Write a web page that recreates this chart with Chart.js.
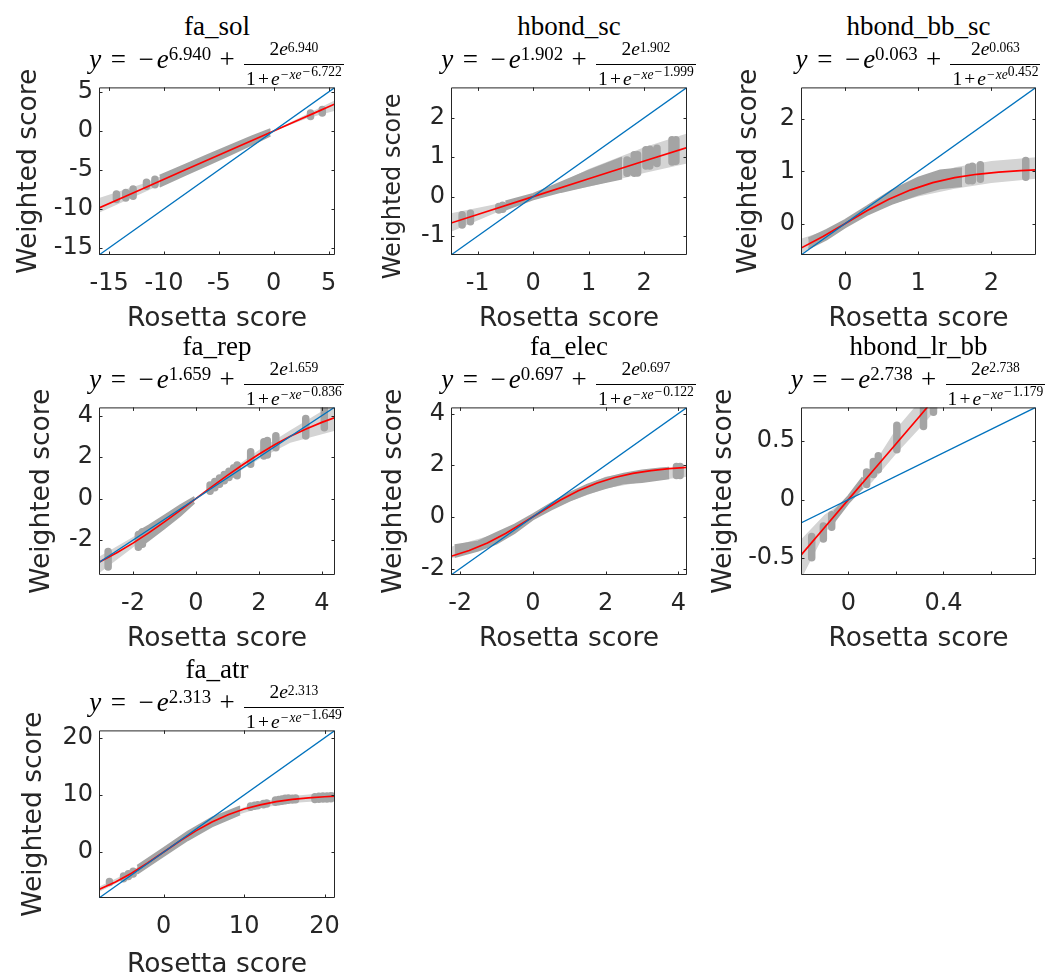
<!DOCTYPE html>
<html>
<head>
<meta charset="utf-8">
<script src="https://cdn.jsdelivr.net/npm/chart.js@4.4.1/dist/chart.umd.min.js"></script>
<style>
  html, body { margin:0; padding:0; background:#fff; width:1051px; height:975px; overflow:hidden; }
  canvas { position:absolute; }
  .ttl { position:absolute; text-align:center; font-family:'Liberation Serif', serif; color:#000; white-space:nowrap; }
  .name { font-size:27px; line-height:27px; }
  .eq { font-size:27px; line-height:27px; }
  .eq i { font-style:italic; }
  .rel { display:inline-block; width:0.78em; margin:0 0.25em; text-align:center; }
  .ord { display:inline-block; width:0.78em; text-align:center; }
  .bin { display:inline-block; width:0.78em; margin:0 0.2em; text-align:center; }
  .sbin { display:inline-block; width:0.78em; text-align:center; }
  .m { display:inline-block; width:0.72em; text-align:center; }
  sup { font-size:0.7em; vertical-align:baseline; position:relative; top:-0.45em; line-height:0; }
  sup sup { font-size:1em; top:-0.25em; }
  .frac { display:inline-block; vertical-align:middle; font-size:0.72em; line-height:1.15; text-align:center; margin:0 1px; position:relative; top:2px; }
  .num { display:block; padding:0 2px 3.5px; border-bottom:1.2px solid #000; }
  .num > sup { top:-0.25em; }
  .den { display:block; padding:3px 2px 0; }
  .den > sup { top:-0.42em; }
</style>
</head>
<body>
<script>
// ---------- fa_sol ----------
const solXLim = [-15.93, 5.59], solYLim = [-15.93, 5.59];
const solXTicks = [-15, -10, -5, 0, 5], solXLabels = ['-15', '-10', '-5', '0', '5'];
const solYTicks = [-15, -10, -5, 0, 5], solYLabels = ['-15', '-10', '-5', '0', '5'];
const solFitX = [-15.93, -12, -8, -4, 0, 2, 4, 5.59];
const solFitY = [-9.89, -7.45, -4.96, -2.48, 0, 1.24, 2.48, 3.47];
const solBandX = [-15.93, -12, -8, -4, 0, 3, 5.59];
const solBandLo = [-10.5, -8.0, -5.4, -2.75, -0.05, 1.6, 2.6];
const solBandHi = [-8.6, -6.8, -4.5, -2.2, 0.05, 2.15, 3.95];
const solDenseX = [-10.4, -8, -6, -4, -2, -0.3];
const solDenseLo = [-7.15, -5.62, -4.36, -3.06, -1.76, -0.6];
const solDenseHi = [-5.75, -4.3, -3.08, -1.9, -0.72, 0.22];
const solPtsX = [-14.34, -13.49, -12.82, -11.6, -10.83, 3.36, 4.43];
const solPtsLo = [-8.8, -8.6, -8.4, -7.1, -6.9, 1.85, 2.3];
const solPtsHi = [-8.1, -7.9, -7.45, -6.6, -6.2, 2.3, 2.75];

// ---------- hbond_sc ----------
const hscXLim = [-1.48, 2.77], hscYLim = [-1.48, 2.77];
const hscXTicks = [-1, 0, 1, 2], hscXLabels = ['-1', '0', '1', '2'];
const hscYTicks = [-1, 0, 1, 2], hscYLabels = ['-1', '0', '1', '2'];
const hscFitX = [-1.48, -1, 0, 1, 2, 2.77];
const hscFitY = [-0.669, -0.453, 0, 0.453, 0.902, 1.243];
const hscBandX = [-1.48, -0.5, 0, 1, 2, 2.77];
const hscBandLo = [-0.89, -0.31, -0.02, 0.25, 0.6, 0.84];
const hscBandHi = [-0.42, -0.14, 0.02, 0.7, 1.25, 1.60];
const hscDenseX = [-0.5, 0, 0.5, 1, 1.6];
const hscDenseLo = [-0.33, -0.07, 0.12, 0.28, 0.46];
const hscDenseHi = [-0.12, 0.07, 0.36, 0.66, 0.99];
const hscPtsX = [-1.28, -1.13, -0.62, -0.55, 1.69, 1.82, 1.88, 2.03, 2.1, 2.23, 2.5, 2.57];
const hscPtsLo = [-0.72, -0.64, -0.34, -0.32, 0.59, 0.59, 0.6, 0.78, 0.78, 0.84, 0.88, 0.9];
const hscPtsHi = [-0.46, -0.42, -0.25, -0.22, 0.93, 1.06, 1.06, 1.19, 1.2, 1.23, 1.44, 1.44];

// ---------- hbond_bb_sc ----------
const hbbXLim = [-0.60, 2.61], hbbYLim = [-0.60, 2.61];
const hbbXTicks = [0, 1, 2], hbbXLabels = ['0', '1', '2'];
const hbbYTicks = [0, 1, 2], hbbYLabels = ['0', '1', '2'];
const hbbFitX = [-0.6, -0.3, 0, 0.3, 0.6, 0.9, 1.2, 1.5, 1.8, 2.1, 2.4, 2.61];
const hbbFitY = [-0.468, -0.246, 0, 0.246, 0.468, 0.648, 0.785, 0.881, 0.946, 0.989, 1.017, 1.030];
const hbbBandX = [-0.6, -0.3, 0, 0.5, 1, 1.5, 2, 2.61];
const hbbBandLo = [-0.57, -0.33, -0.03, 0.32, 0.52, 0.67, 0.78, 0.86];
const hbbBandHi = [-0.29, -0.15, 0.03, 0.48, 0.78, 1.08, 1.2, 1.27];
const hbbDenseX = [-0.5, -0.25, 0, 0.3, 0.64, 1.0, 1.3, 1.6];
const hbbDenseLo = [-0.48, -0.3, -0.07, 0.17, 0.38, 0.56, 0.68, 0.72];
const hbbDenseHi = [-0.28, -0.12, 0.07, 0.33, 0.64, 0.88, 1.02, 1.06];
const hbbPtsX = [1.69, 1.74, 1.85, 2.47];
const hbbPtsLo = [0.82, 0.82, 0.85, 0.89];
const hbbPtsHi = [1.08, 1.1, 1.13, 1.21];

// ---------- fa_rep ----------
const repXLim = [-3.08, 4.42], repYLim = [-3.68, 4.40];
const repXTicks = [-2, 0, 2, 4], repXLabels = ['-2', '0', '2', '4'];
const repYTicks = [-2, 0, 2, 4], repYLabels = ['-2', '0', '2', '4'];
const repFitX = [-3.08, -2.5, -2, -1.5, -1, -0.5, 0, 0.5, 1, 1.5, 2, 2.5, 3, 3.5, 4, 4.42];
const repFitY = [-3.065, -2.598, -2.144, -1.650, -1.121, -0.567, 0, 0.567, 1.121, 1.650, 2.144, 2.598, 3.004, 3.363, 3.677, 3.906];
const repBandX = [-3.08, -2, -1, 0, 1, 2, 3, 4.42];
const repBandLo = [-3.6, -2.35, -1.25, -0.05, 0.95, 1.9, 2.7, 3.28];
const repBandHi = [-2.8, -1.85, -0.95, 0.05, 1.25, 2.35, 3.3, 4.6];
const repDenseX = [-1.9, -1.5, -1.0, -0.5, -0.05];
const repDenseLo = [-2.45, -2.0, -1.42, -0.82, -0.2];
const repDenseHi = [-1.65, -1.3, -0.82, -0.32, 0.08];
const repPtsX = [-2.79, -1.83, -1.7, 0.45, 0.6, 0.75, 0.9, 1.05, 1.2, 1.31, 1.74, 2.16, 2.27, 2.54, 3.49, 4.08];
const repPtsLo = [-3.3, -2.34, -2.2, 0.36, 0.53, 0.7, 0.86, 1.02, 1.19, 1.1, 1.66, 2.06, 2.1, 2.46, 3.02, 3.42];
const repPtsHi = [-2.55, -1.74, -1.6, 0.66, 0.83, 1.0, 1.16, 1.32, 1.49, 1.62, 2.26, 2.74, 2.8, 3.03, 3.86, 4.4];

// ---------- fa_elec ----------
const elecXLim = [-2.25, 4.24], elecYLim = [-2.25, 4.24];
const elecXTicks = [-2, 0, 2, 4], elecXLabels = ['-2', '0', '2', '4'];
const elecYTicks = [-2, 0, 2, 4], elecYLabels = ['-2', '0', '2', '4'];
const elecFitX = [-2.25, -1.75, -1.25, -0.75, -0.25, 0.25, 0.75, 1.25, 1.75, 2.25, 2.75, 3.25, 3.75, 4.24];
const elecFitY = [-1.525, -1.304, -1.010, -0.643, -0.221, 0.221, 0.643, 1.010, 1.304, 1.525, 1.684, 1.794, 1.868, 1.916];
const elecBandX = [-2.25, -1, 0, 1, 2, 3, 4.24];
const elecBandLo = [-1.61, -1.0, -0.05, 0.6, 1.1, 1.35, 1.55];
const elecBandHi = [-1.16, -0.65, 0.05, 0.95, 1.55, 1.8, 1.87];
const elecDenseX = [-2.15, -1.5, -1, -0.5, 0, 0.5, 1, 1.5, 2, 2.5, 3, 3.5, 3.75];
const elecDenseLo = [-1.55, -1.3, -1.03, -0.62, -0.1, 0.28, 0.62, 0.9, 1.12, 1.3, 1.35, 1.45, 1.5];
const elecDenseHi = [-1.1, -0.95, -0.62, -0.3, 0.1, 0.52, 0.92, 1.25, 1.5, 1.67, 1.8, 1.87, 1.9];
const elecPtsX = [3.95, 4.05];
const elecPtsLo = [1.6, 1.6];
const elecPtsHi = [1.95, 1.95];

// ---------- hbond_lr_bb ----------
const hlrXLim = [-0.199, 0.789], hlrYLim = [-0.643, 0.787];
const hlrXTicks = [0, 0.2, 0.4, 0.6], hlrXLabels = ['0', '', '0.4', ''];
const hlrYTicks = [-0.5, 0, 0.5], hlrYLabels = ['-0.5', '0', '0.5'];
const hlrFitX = [-0.199, -0.1, 0, 0.1, 0.2, 0.3, 0.335];
const hlrFitY = [-0.473, -0.238, 0, 0.238, 0.475, 0.712, 0.796];
const hlrBandX = [-0.199, -0.1, 0, 0.1, 0.2, 0.3, 0.38];
const hlrBandLo = [-0.68, -0.29, -0.01, 0.15, 0.39, 0.61, 0.79];
const hlrBandHi = [-0.34, -0.13, 0.01, 0.28, 0.6, 0.84, 1.05];
const hlrDenseX = [-0.06, 0, 0.06];
const hlrDenseLo = [-0.19, -0.03, 0.1];
const hlrDenseHi = [-0.1, 0.03, 0.19];
const hlrPtsX = [-0.154, -0.105, -0.07, 0.077, 0.105, 0.126, 0.204, 0.316, 0.358];
const hlrPtsLo = [-0.495, -0.335, -0.235, 0.13, 0.215, 0.255, 0.425, 0.625, 0.745];
const hlrPtsHi = [-0.315, -0.225, -0.13, 0.235, 0.325, 0.375, 0.635, 0.8, 0.82];

// ---------- fa_atr ----------
const atrXLim = [-8.05, 21.3], atrYLim = [-8.05, 21.3];
const atrXTicks = [0, 10, 20], atrXLabels = ['0', '10', '20'];
const atrYTicks = [0, 10, 20], atrYLabels = ['0', '10', '20'];
const atrFitX = [-8.05, -6, -4, -2, 0, 2, 4, 6, 8, 10, 12, 14, 16, 18, 20, 21.3];
const atrFitY = [-6.56, -5.258, -3.704, -1.919, 0, 1.919, 3.704, 5.258, 6.531, 7.528, 8.270, 8.823, 9.213, 9.487, 9.681, 9.774];
const atrBandX = [-8.05, -4, 0, 4, 8, 12, 16, 21.3];
const atrBandLo = [-7.0, -4.1, -0.3, 3.3, 6.0, 7.7, 8.6, 9.1];
const atrBandHi = [-6.1, -3.3, 0.3, 4.1, 6.9, 8.8, 9.8, 10.5];
const atrDenseX = [-3.3, 0, 3, 6, 9.5];
const atrDenseLo = [-3.8, -0.7, 2.1, 4.5, 6.6];
const atrDenseHi = [-2.4, 0.7, 3.6, 6.0, 8.0];
const atrPtsX = [-6.75, -5.0, -4.4, -3.8, 10.8, 11.3, 11.7, 12.4, 12.8, 13.9, 14.3, 14.7, 15.1, 15.5, 16.0, 16.4, 18.8, 19.3, 19.8, 20.3, 20.8];
const atrPtsLo = [-5.35, -4.7, -4.3, -3.85, 7.85, 8.0, 8.1, 8.3, 8.4, 8.7, 8.8, 8.9, 9.0, 9.05, 9.1, 9.15, 9.2, 9.25, 9.3, 9.3, 9.35];
const atrPtsHi = [-5.15, -4.2, -3.8, -3.35, 8.05, 8.2, 8.3, 8.5, 8.6, 9.1, 9.2, 9.3, 9.4, 9.45, 9.4, 9.45, 9.7, 9.75, 9.8, 9.8, 9.85];

// ---------- titles ----------
const panelNames = ['fa_sol', 'hbond_sc', 'hbond_bb_sc', 'fa_rep', 'fa_elec', 'hbond_lr_bb', 'fa_atr'];
const paramA = ['6.940', '1.902', '0.063', '1.659', '0.697', '2.738', '2.313'];
const paramB = ['-6.722', '-1.999', '0.452', '-0.836', '-0.122', '-1.179', '-1.649'];
const xTitle = 'Rosetta score';
const yTitle = 'Weighted score';

// ---------- layout (positions only) ----------
const layout = [
  {L: 99,  T: 87,  W: 236, axw: 86, axh: 80, yFont: 26.5, yShift: 0},
  {L: 451, T: 87,  W: 236, axw: 72, axh: 80, yFont: 24,   yShift: 4},
  {L: 801, T: 87,  W: 235, axw: 68, axh: 80, yFont: 26.5, yShift: 0},
  {L: 99,  T: 407, W: 236, axw: 73, axh: 80, yFont: 26.5, yShift: 0},
  {L: 451, T: 407, W: 236, axw: 73, axh: 80, yFont: 26.5, yShift: 0},
  {L: 801, T: 407, W: 235, axw: 93, axh: 80, yFont: 26.5, yShift: 0},
  {L: 99,  T: 730, W: 236, axw: 81, axh: 83, yFont: 26.5, yShift: 0}
];
const PH = 168, TOPPAD = 20, RPAD = 25;

const panels = [
  [solXLim, solYLim, solXTicks, solXLabels, solYTicks, solYLabels, solFitX, solFitY, solBandX, solBandLo, solBandHi, solDenseX, solDenseLo, solDenseHi, solPtsX, solPtsLo, solPtsHi],
  [hscXLim, hscYLim, hscXTicks, hscXLabels, hscYTicks, hscYLabels, hscFitX, hscFitY, hscBandX, hscBandLo, hscBandHi, hscDenseX, hscDenseLo, hscDenseHi, hscPtsX, hscPtsLo, hscPtsHi],
  [hbbXLim, hbbYLim, hbbXTicks, hbbXLabels, hbbYTicks, hbbYLabels, hbbFitX, hbbFitY, hbbBandX, hbbBandLo, hbbBandHi, hbbDenseX, hbbDenseLo, hbbDenseHi, hbbPtsX, hbbPtsLo, hbbPtsHi],
  [repXLim, repYLim, repXTicks, repXLabels, repYTicks, repYLabels, repFitX, repFitY, repBandX, repBandLo, repBandHi, repDenseX, repDenseLo, repDenseHi, repPtsX, repPtsLo, repPtsHi],
  [elecXLim, elecYLim, elecXTicks, elecXLabels, elecYTicks, elecYLabels, elecFitX, elecFitY, elecBandX, elecBandLo, elecBandHi, elecDenseX, elecDenseLo, elecDenseHi, elecPtsX, elecPtsLo, elecPtsHi],
  [hlrXLim, hlrYLim, hlrXTicks, hlrXLabels, hlrYTicks, hlrYLabels, hlrFitX, hlrFitY, hlrBandX, hlrBandLo, hlrBandHi, hlrDenseX, hlrDenseLo, hlrDenseHi, hlrPtsX, hlrPtsLo, hlrPtsHi],
  [atrXLim, atrYLim, atrXTicks, atrXLabels, atrYTicks, atrYLabels, atrFitX, atrFitY, atrBandX, atrBandLo, atrBandHi, atrDenseX, atrDenseLo, atrDenseHi, atrPtsX, atrPtsLo, atrPtsHi]
];

const AXC = '#262626';
const DARK = 'rgb(164,164,164)';
const LIGHT = 'rgb(212,212,212)';

const framePlugin = {
  id: 'frame',
  afterDatasetsDraw(chart) {
    const {ctx, chartArea: a, scales: {x, y}} = chart;
    ctx.save();
    ctx.strokeStyle = AXC;
    ctx.lineWidth = 1;
    ctx.beginPath();
    ctx.rect(a.left + 0.5, a.top + 0.5, a.right - a.left - 1, a.bottom - a.top - 1);
    const tl = 3.5;
    x.ticks.forEach(t => {
      const px = Math.round(x.getPixelForValue(t.value)) + 0.5;
      ctx.moveTo(px, a.bottom); ctx.lineTo(px, a.bottom - tl);
      ctx.moveTo(px, a.top); ctx.lineTo(px, a.top + tl);
    });
    y.ticks.forEach(t => {
      const py = Math.round(y.getPixelForValue(t.value)) + 0.5;
      ctx.moveTo(a.left, py); ctx.lineTo(a.left + tl, py);
      ctx.moveTo(a.right, py); ctx.lineTo(a.right - tl, py);
    });
    ctx.stroke();
    ctx.restore();
  }
};

function pairs(xs, ys) { return xs.map((v, i) => ({x: v, y: ys[i]})); }
function mathMinus(s) { return s.replace(/-/g, '<span class="m">\u2212</span>'); }

panels.forEach((p, k) => {
  const [xLim, yLim, xTicks, xLabels, yTicks, yLabels, fitX, fitY, bandX, bandLo, bandHi, denseX, denseLo, denseHi, ptsX, ptsLo, ptsHi] = p;
  const g = layout[k];
  const cw = g.axw + g.W + RPAD, chh = TOPPAD + PH + g.axh;
  const cv = document.createElement('canvas');
  cv.width = cw; cv.height = chh;
  cv.style.left = (g.L - g.axw) + 'px';
  cv.style.top = (g.T - TOPPAD) + 'px';
  cv.style.width = cw + 'px'; cv.style.height = chh + 'px';
  document.body.appendChild(cv);

  const segs = [];
  ptsX.forEach((v, i) => { segs.push({x: v, y: ptsLo[i]}, {x: v, y: ptsHi[i]}, {x: v, y: null}); });

  const base = {pointRadius: 0, pointHoverRadius: 0, tension: 0, clip: 0};
  new Chart(cv, {
    type: 'line',
    data: {
      datasets: [
        Object.assign({label: 'band lo', data: pairs(bandX, bandLo), borderColor: 'rgba(0,0,0,0)', borderWidth: 0, fill: false, order: 6}, base),
        Object.assign({label: 'band hi', data: pairs(bandX, bandHi), borderColor: 'rgba(0,0,0,0)', borderWidth: 0, backgroundColor: LIGHT, fill: '-1', order: 5}, base),
        Object.assign({label: 'dense lo', data: pairs(denseX, denseLo), borderColor: DARK, borderWidth: 2, fill: false, order: 4}, base),
        Object.assign({label: 'dense hi', data: pairs(denseX, denseHi), borderColor: DARK, borderWidth: 2, backgroundColor: DARK, fill: '-1', order: 3}, base),
        Object.assign({label: 'points', data: segs, borderColor: DARK, borderWidth: 7.5, borderCapStyle: 'round', borderJoinStyle: 'round', spanGaps: false, fill: false, order: 2}, base),
        Object.assign({label: 'fit', data: pairs(fitX, fitY), borderColor: '#ff0000', borderWidth: 1.7, fill: false, order: 1}, base),
        Object.assign({label: 'y = x', data: [{x: xLim[0], y: xLim[0]}, {x: xLim[1], y: xLim[1]}], borderColor: '#0072bd', borderWidth: 1.3, fill: false, order: 0}, base)
      ]
    },
    options: {
      responsive: false,
      animation: false,
      devicePixelRatio: 1,
      layout: {padding: {left: 0, top: TOPPAD, right: RPAD, bottom: 0}},
      plugins: {legend: {display: false}, tooltip: {enabled: false}},
      scales: {
        x: {
          type: 'linear', min: xLim[0], max: xLim[1],
          grid: {display: false, drawTicks: false},
          border: {display: false},
          afterBuildTicks: s => { s.ticks = xTicks.map(v => ({value: v})); },
          afterFit: s => { s.height = g.axh; },
          ticks: {font: {family: 'DejaVu Sans', size: 24}, color: AXC, padding: 14, maxRotation: 0, autoSkip: false,
                  callback: (v, i) => xLabels[i]},
          title: {display: true, text: xTitle, color: AXC, padding: 0, font: {family: 'DejaVu Sans', size: 26.5}}
        },
        y: {
          type: 'linear', min: yLim[0], max: yLim[1],
          grid: {display: false, drawTicks: false},
          border: {display: false},
          afterBuildTicks: s => { s.ticks = yTicks.map(v => ({value: v})); },
          afterFit: s => { s.width = g.axw; },
          ticks: {font: {family: 'DejaVu Sans', size: 24}, color: AXC, padding: 6, autoSkip: false,
                  callback: (v, i) => yLabels[i]},
          title: {display: true, text: yTitle + '\u00a0'.repeat(g.yShift), color: AXC, padding: 0, font: {family: 'DejaVu Sans', size: g.yFont}}
        }
      }
    },
    plugins: [framePlugin]
  });

  // title (name + formula)
  const t1 = document.createElement('div');
  t1.className = 'ttl name';
  t1.style.left = g.L + 'px'; t1.style.width = g.W + 'px';
  t1.style.top = (g.T - 74) + 'px';
  t1.textContent = panelNames[k];
  document.body.appendChild(t1);

  const t2 = document.createElement('div');
  t2.className = 'ttl eq';
  t2.style.left = (g.L - 40) + 'px'; t2.style.width = (g.W + 80) + 'px';
  t2.style.top = (g.T - 51) + 'px';
  t2.innerHTML = '<i>y</i><span class="rel">=</span><span class="ord">\u2212</span><i>e</i><sup>' + paramA[k] +
    '</sup><span class="bin">+</span><span class="frac"><span class="num">2<i>e</i><sup>' + paramA[k] +
    '</sup></span><span class="den">1<span class="sbin">+</span><i>e</i><sup>' + mathMinus('-') + '<i>xe</i><sup>' + mathMinus(paramB[k]) +
    '</sup></sup></span></span>';
  document.body.appendChild(t2);
});
</script>
</body>
</html>
